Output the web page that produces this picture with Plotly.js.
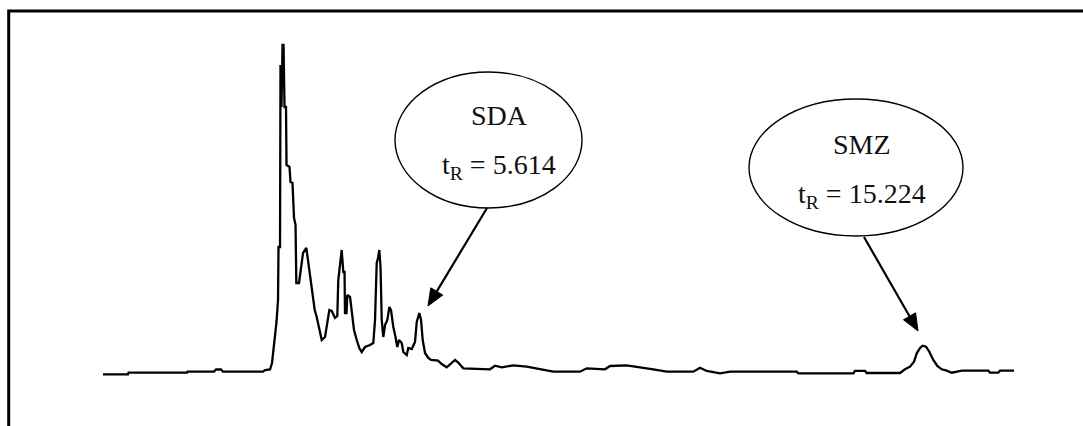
<!DOCTYPE html>
<html>
<head>
<meta charset="utf-8">
<script src="https://cdn.plot.ly/plotly-3.0.1.min.js"></script>
<style>
  html, body { margin: 0; padding: 0; background: #fff; }
  #chart { width: 1083px; height: 426px; }
</style>
</head>
<body>
<div id="chart"></div>
<script>
// Retention time (min)
const timeMin = [
  0, 0.477, 0.487, 1.603, 1.613, 2.118, 2.156, 2.252, 2.290, 3.053,
  3.092, 3.187, 3.225, 3.254, 3.288, 3.311, 3.340, 3.349, 3.378, 3.387,
  3.406, 3.426, 3.445, 3.464, 3.492, 3.502, 3.559, 3.578, 3.616, 3.645,
  3.674, 3.689, 3.740, 3.760, 3.817, 3.880, 3.926, 3.975, 4.013, 4.040,
  4.078, 4.128, 4.174, 4.237, 4.281, 4.319, 4.365, 4.427, 4.471, 4.490,
  4.555, 4.586, 4.609, 4.618, 4.647, 4.662, 4.714, 4.746, 4.790, 4.842,
  4.891, 4.937, 5.000, 5.095, 5.158, 5.191, 5.223, 5.248, 5.273, 5.296,
  5.319, 5.349, 5.382, 5.426, 5.464, 5.496, 5.540, 5.582, 5.616, 5.649,
  5.700, 5.731, 5.796, 5.826, 5.891, 5.954, 5.987, 6.036, 6.069, 6.101,
  6.145, 6.208, 6.260, 6.393, 6.464, 6.559, 6.655, 6.718, 6.781, 6.876,
  7.385, 7.481, 7.609, 7.830, 8.086, 8.340, 8.593, 9.103, 9.231, 9.580,
  9.676, 9.994, 10.248, 10.502, 10.758, 11.265, 11.393, 11.521, 11.775, 11.966,
  13.239, 13.269, 14.319, 14.351, 14.542, 14.574, 15.210, 15.305, 15.401, 15.477,
  15.529, 15.592, 15.643, 15.706, 15.769, 15.845, 15.922, 16.006, 16.101, 16.197,
  16.387, 16.895, 16.927, 17.086, 17.118, 17.385
];
// Detector response (arbitrary units)
const signal = [
  0.2, 0.2, 1.8, 1.8, 2.8, 2.8, 5.0, 5.0, 2.8, 2.8,
  4.5, 5.0, 11.5, 24.5, 39.5, 52.5, 74.5, 127.5, 127.5, 309.5,
  267.5, 329.5, 329.5, 267.5, 267.5, 209.5, 207.5, 192.5, 191.5, 156.5,
  149.5, 91.5, 91.5, 98.5, 121.5, 126.5, 109.5, 86.5, 77.5, 64.5,
  57.5, 44.5, 34.5, 37.5, 51.5, 64.5, 63.5, 56.5, 58.5, 94.5,
  124.5, 102.5, 102.5, 61.5, 61.5, 79.5, 77.5, 64.5, 44.5, 34.5,
  26.5, 22.5, 27.5, 29.5, 31.5, 54.5, 111.5, 116.5, 124.5, 107.5,
  54.5, 37.5, 49.5, 54.5, 67.5, 64.5, 47.5, 37.5, 27.5, 34.5,
  31.5, 22.5, 19.5, 26.5, 25.5, 32.5, 52.5, 61.5, 54.5, 34.5,
  21.5, 16.5, 14.5, 13.8, 10.5, 7.2, 11.8, 14.5, 11.8, 6.2,
  5.2, 8.8, 7.2, 9.2, 7.8, 5.2, 2.8, 2.8, 6.2, 5.2,
  8.5, 9.2, 7.5, 5.2, 2.8, 2.8, 6.8, 3.5, 1.2, 2.8,
  2.8, 1.2, 1.2, 3.7, 3.7, 1.5, 1.5, 5.2, 7.8, 12.8,
  21.2, 26.5, 28.8, 27.8, 22.8, 14.5, 8.5, 5.2, 3.8, 1.8,
  3.8, 3.8, 1.8, 1.8, 3.8, 3.8
];
// Peak labels
const peakNames = ["SDA", "SMZ"];
const peakTimesLabel = ["5.614", "15.224"];

const W = 1083, H = 426;
const serif = "Liberation Serif, Times New Roman, serif";

const trace = {
  x: timeMin, y: signal, type: "scatter", mode: "lines",
  line: { color: "#000", width: 2.3, shape: "linear" },
  hoverinfo: "skip"
};

// Ellipse boxes and arrows (pixel positions -> paper)
const ell = [
  { x0: 395, x1: 582, y0: 72, y1: 208, tx: 499, ty1: 116, ty2: 166, tail: [487, 208], tip: [428, 306] },
  { x0: 749, x1: 963, y0: 99, y1: 236, tx: 862, ty1: 144, ty2: 195, tail: [864, 237], tip: [918, 331] }
];
const px = v => v / W, py = v => 1 - v / H;

const shapes = [
  { type: "rect", xref: "paper", yref: "paper", x0: px(8.7), x1: 1.2, y0: -0.2, y1: py(11),
    line: { color: "#000", width: 3 }, fillcolor: "rgba(0,0,0,0)" }
];
const annotations = [];

ell.forEach((e, i) => {
  shapes.push({ type: "circle", xref: "paper", yref: "paper",
    x0: px(e.x0), x1: px(e.x1), y0: py(e.y1), y1: py(e.y0),
    line: { color: "#000", width: 1.4 }, fillcolor: "rgba(0,0,0,0)" });
  annotations.push({ xref: "paper", yref: "paper", x: px(e.tx), y: py(e.ty1),
    xanchor: "center", yanchor: "middle", showarrow: false,
    text: peakNames[i], font: { family: serif, size: 28, color: "#111" } });
  annotations.push({ xref: "paper", yref: "paper", x: px(e.tx), y: py(e.ty2),
    xanchor: "center", yanchor: "middle", showarrow: false,
    text: "t<sub>R</sub> = " + peakTimesLabel[i], font: { family: serif, size: 28, color: "#111" } });
  // arrow: shaft + filled head
  const dx = e.tip[0] - e.tail[0], dy = e.tip[1] - e.tail[1];
  const len = Math.hypot(dx, dy), ux = dx / len, uy = dy / len;
  const headL = 17, headW = 7;
  const bx = e.tip[0] - ux * headL, by = e.tip[1] - uy * headL;
  shapes.push({ type: "line", xref: "paper", yref: "paper",
    x0: px(e.tail[0]), y0: py(e.tail[1]), x1: px(bx + ux * 2), y1: py(by + uy * 2),
    line: { color: "#000", width: 2.2 } });
  const lx = bx - uy * headW, ly = by + ux * headW;
  const rx = bx + uy * headW, ry = by - ux * headW;
  shapes.push({ type: "path", xref: "paper", yref: "paper",
    path: `M${px(e.tip[0])},${py(e.tip[1])} L${px(lx)},${py(ly)} L${px(rx)},${py(ry)} Z`,
    fillcolor: "#000", line: { color: "#000", width: 1 } });
});

const layout = {
  width: W, height: H,
  margin: { l: 0, r: 0, t: 0, b: 0, pad: 0 },
  paper_bgcolor: "#fff", plot_bgcolor: "#fff",
  showlegend: false,
  xaxis: { range: [-1.966, 18.702], visible: false, fixedrange: true },
  yaxis: { range: [-51.5, 374.5], visible: false, fixedrange: true },
  shapes: shapes,
  annotations: annotations
};

Plotly.newPlot("chart", [trace], layout, { displayModeBar: false, staticPlot: true });
</script>
</body>
</html>
